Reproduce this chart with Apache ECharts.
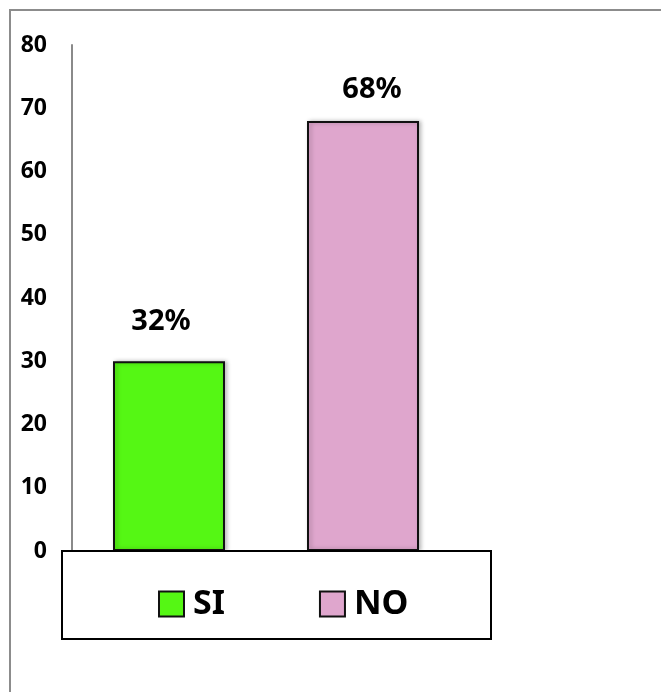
<!DOCTYPE html>
<html>
<head>
<meta charset="utf-8">
<script src="https://cdn.jsdelivr.net/npm/echarts@6/dist/echarts.min.js"></script>
<style>
html,body{margin:0;padding:0;background:#fff;}
#chart{width:661px;height:692px;}
</style>
</head>
<body>
<div id="chart"></div>
<script>
var categories = ['SI', 'NO'];
var values = [30, 68];
var pctLabels = ['32%', '68%'];
var yTicks = [0, 10, 20, 30, 40, 50, 60, 70, 80];
var colors = ['#55f714', '#dfa6cd'];

var FONT = '"Noto Sans", sans-serif';

var series = categories.map(function (name, i) {
  var data = categories.map(function (c, j) { return j === i ? values[i] : '-'; });
  return {
    name: name,
    type: 'bar',
    stack: 'all',
    barWidth: 112,
    data: data,
    itemStyle: {
      color: colors[i],
      borderColor: '#111',
      borderWidth: 2,
      shadowColor: 'rgba(0,0,0,0.25)',
      shadowBlur: 4,
      shadowOffsetX: 2,
      shadowOffsetY: 0
    },
    label: {
      show: true,
      position: 'top',
      distance: i === 0 ? 25 : 17,
      offset: [i === 0 ? -8 : 9, 0],
      formatter: function (p) { return pctLabels[p.dataIndex]; },
      color: '#000',
      fontWeight: 'bold',
      fontSize: 29,
      fontFamily: FONT
    }
  };
});

var chart = echarts.init(document.getElementById('chart'), null, {renderer: 'canvas'});
chart.setOption({
  animation: false,
  backgroundColor: '#fff',
  grid: {left: 72, right: 201, top: 45, bottom: 141, containLabel: false},
  xAxis: {
    type: 'category',
    data: categories,
    axisLine: {show: false},
    axisTick: {show: false},
    axisLabel: {show: false},
    splitLine: {show: false}
  },
  yAxis: {
    type: 'value',
    min: yTicks[0],
    max: yTicks[yTicks.length - 1],
    interval: 10,
    axisLine: {show: true, lineStyle: {color: '#8a8a8a', width: 2}},
    axisTick: {show: false},
    splitLine: {show: false},
    axisLabel: {
      margin: 25,
      color: '#000',
      fontWeight: 'bold',
      fontSize: 23,
      fontFamily: FONT
    }
  },
  legend: {
    data: categories,
    left: 153,
    top: 582,
    itemWidth: 25,
    itemHeight: 25,
    itemGap: 94,
    icon: 'rect',
    z: 10,
    itemStyle: {borderColor: '#111', borderWidth: 2},
    textStyle: {
      color: '#000',
      fontWeight: 'bold',
      fontSize: 34,
      fontFamily: FONT,
      padding: [0, 0, 0, 4]
    }
  },
  graphic: [
    {
      type: 'rect',
      z: 5,
      shape: {x: 62, y: 551, width: 429, height: 88},
      style: {fill: '#fff', stroke: '#000', lineWidth: 2}
    },
    {
      type: 'rect',
      z: 0,
      silent: true,
      shape: {x: 10, y: 10, width: 700, height: 720},
      style: {fill: 'none', stroke: '#8c8c8c', lineWidth: 2}
    }
  ],
  series: series
});
</script>
</body>
</html>
